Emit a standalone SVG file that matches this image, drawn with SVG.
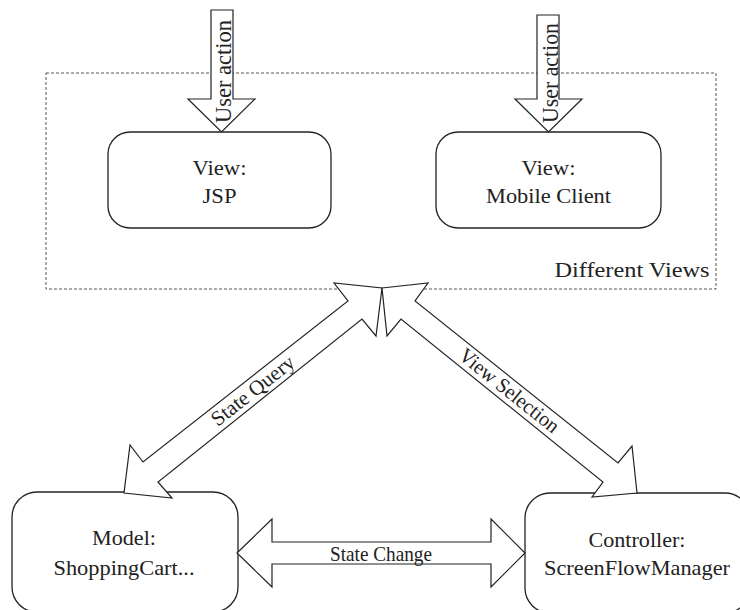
<svg xmlns="http://www.w3.org/2000/svg" width="740" height="610" viewBox="0 0 740 610">
<style>
  .node { fill: #fff; stroke: #222; stroke-width: 1.3; }
  .ntext { font-family: "Liberation Serif", "Times New Roman", serif; font-size: 21px; fill: #222; text-anchor: middle; }
  .lbl { font-family: "Liberation Serif", "Times New Roman", serif; fill: #222; text-anchor: middle; }
  .arrow { fill: #fff; stroke: #222; stroke-width: 1.2; stroke-linejoin: miter; }
</style>
<rect width="740" height="610" fill="#fff"/>
<g id="different-views" font-family="Liberation Serif, serif">
  <rect x="46" y="73" width="670" height="216" fill="none" stroke="#555" stroke-width="1" stroke-dasharray="3,2"/>
  <text class="ntext" textLength="155" lengthAdjust="spacingAndGlyphs" x="632" y="277">Different Views</text>
</g>
<g id="view-jsp" font-family="Liberation Serif, serif">
  <rect class="node" x="108" y="132" width="223" height="96" rx="22" ry="22"/>
  <text class="ntext" textLength="54" lengthAdjust="spacingAndGlyphs" x="219.5" y="175">View:</text>
  <text class="ntext" textLength="34" lengthAdjust="spacingAndGlyphs" x="219.5" y="203">JSP</text>
</g>
<g id="view-mobile" font-family="Liberation Serif, serif">
  <rect class="node" x="436" y="132" width="225" height="96" rx="22" ry="22"/>
  <text class="ntext" textLength="54" lengthAdjust="spacingAndGlyphs" x="548.5" y="175">View:</text>
  <text class="ntext" textLength="125" lengthAdjust="spacingAndGlyphs" x="548.5" y="203">Mobile Client</text>
</g>
<g id="model" font-family="Liberation Serif, serif">
  <rect class="node" x="12" y="492" width="226" height="120" rx="25" ry="25"/>
  <text class="ntext" textLength="64" lengthAdjust="spacingAndGlyphs" x="124" y="545">Model:</text>
  <text class="ntext" textLength="141" lengthAdjust="spacingAndGlyphs" x="124" y="575">ShoppingCart...</text>
</g>
<g id="controller" font-family="Liberation Serif, serif">
  <rect class="node" x="525" y="493" width="225" height="120" rx="25" ry="25"/>
  <text class="ntext" textLength="97" lengthAdjust="spacingAndGlyphs" x="637" y="547">Controller:</text>
  <text class="ntext" textLength="186" lengthAdjust="spacingAndGlyphs" x="637" y="575">ScreenFlowManager</text>
</g>
<g id="connectors">
  <polygon class="arrow" points="211,10 233,10 233,99 255,99 221.5,132 188,99 211,99"/>
  <text class="lbl" font-size="24" textLength="103" lengthAdjust="spacingAndGlyphs" transform="translate(231,71.5) rotate(-90)">User action</text>
  <polygon class="arrow" points="537,15 559,15 559,99 582,99 548.5,132 515,99 537,99"/>
  <text class="lbl" font-size="24" textLength="100" lengthAdjust="spacingAndGlyphs" transform="translate(558,73) rotate(-90)">User action</text>
  <polygon class="arrow" points="382,288 376,336 362,319 158,482 172,498 124,493 130,445 143,462 348,301 334,283"/>
  <text class="lbl" font-size="21" textLength="100" lengthAdjust="spacingAndGlyphs" transform="translate(257,396) rotate(-38.4)">State Query</text>
  <polygon class="arrow" points="382,288 428,283 415,301 618,463 632,446 637,493 592,497 603,482 401,319 387,336"/>
  <text class="lbl" font-size="21" textLength="122" lengthAdjust="spacingAndGlyphs" transform="translate(505,396) rotate(38.7)">View Selection</text>
  <polygon class="arrow" points="237,553 272,519 272,542 491,542 491,519 525,553 491,587 491,564 272,564 272,587"/>
  <text class="lbl" font-size="21" textLength="102" lengthAdjust="spacingAndGlyphs" x="381" y="561">State Change</text>
</g>
</svg>
